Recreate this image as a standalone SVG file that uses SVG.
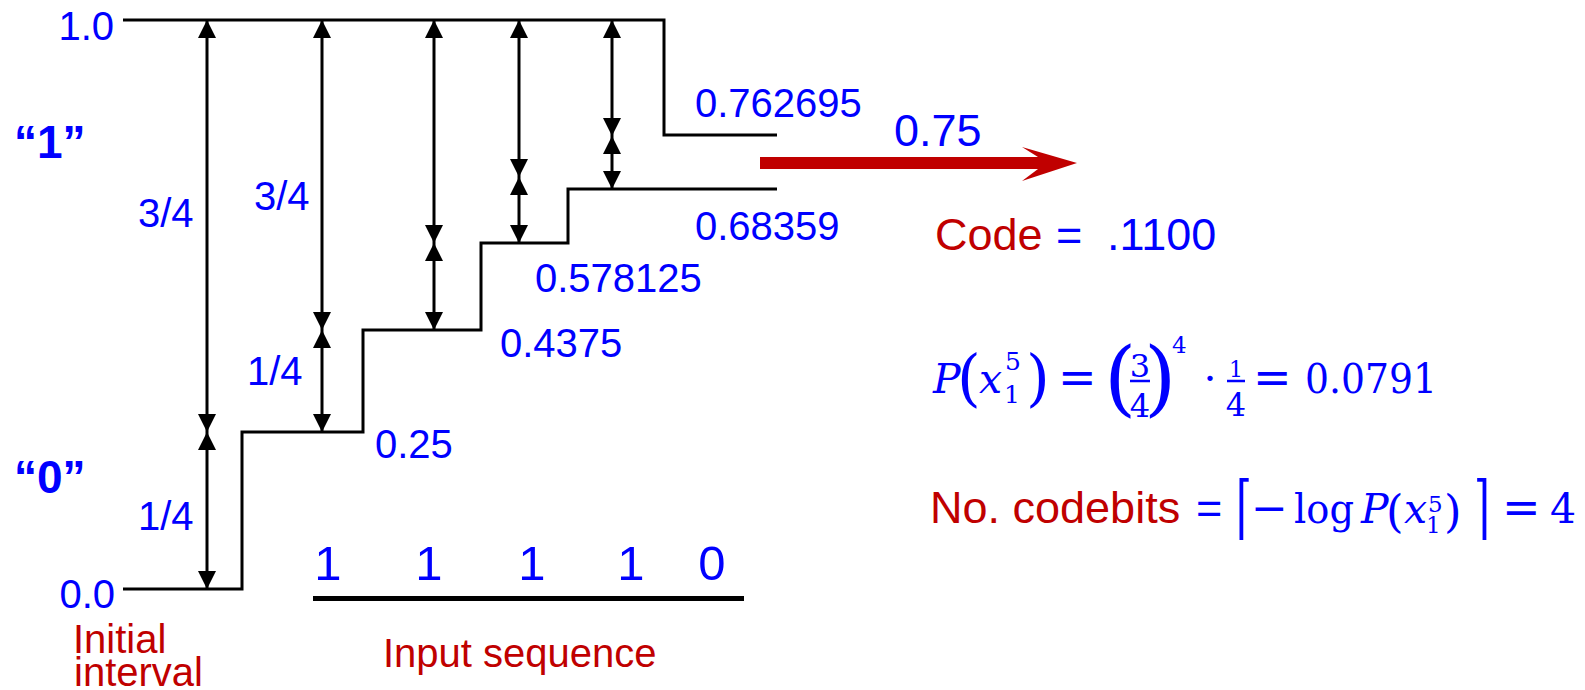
<svg xmlns="http://www.w3.org/2000/svg" width="1585" height="690" viewBox="0 0 1585 690">
  <style>
    .lbl { font-family: "Liberation Sans", Arial, sans-serif; font-size: 40px; fill: #0000FF; }
    .red { fill: #C00000; }
    .sym { font-family: "Liberation Sans", Arial, sans-serif; font-weight: bold; font-size: 46px; fill: #0000FF; }
    .math { font-family: "DejaVu Serif", "Liberation Serif", serif; font-size: 41px; fill: #0000FF; }
    .it { font-style: italic; }
    .rel { font-size: 46px; }
    .step { fill: none; stroke: #000; stroke-width: 3; }
    .dim { stroke: #000; stroke-width: 3; marker-start: url(#head); marker-end: url(#head); }
    .bar { stroke: #0000FF; stroke-width: 2.5; }
  </style>
  <defs>
    <marker id="head" markerUnits="userSpaceOnUse" markerWidth="18" markerHeight="18" refX="18" refY="9" orient="auto-start-reverse">
      <path d="M0,0 L18,9 L0,18 Z" fill="#000"/>
    </marker>
  </defs>
  <rect width="1585" height="690" fill="#fff"/>

  <!-- interval boundaries and subdivision arrows -->
  <g id="connectors">
    <path class="step" d="M123,20 H664 V135 H777"/>
    <path class="step" d="M123,589 H242 V432 H363 V330 H481 V243 H568 V189 H777"/>
    <line class="dim" x1="207" y1="20" x2="207" y2="432"/>
    <line class="dim" x1="207" y1="432" x2="207" y2="589"/>
    <line class="dim" x1="322" y1="20" x2="322" y2="330"/>
    <line class="dim" x1="322" y1="330" x2="322" y2="432"/>
    <line class="dim" x1="434" y1="20" x2="434" y2="243"/>
    <line class="dim" x1="434" y1="243" x2="434" y2="330"/>
    <line class="dim" x1="519" y1="20" x2="519" y2="177"/>
    <line class="dim" x1="519" y1="177" x2="519" y2="243"/>
    <line class="dim" x1="612" y1="20" x2="612" y2="136"/>
    <line class="dim" x1="612" y1="136" x2="612" y2="189"/>
    <path id="out-arrow" d="M760,157 H1038 L1022,147 L1077,163 L1022,181 L1038,169 H760 Z" fill="#C00000"/>
    <rect x="313" y="596" width="431" height="5" fill="#000"/>
  </g>

  <!-- axis labels -->
  <g id="axis">
    <text class="lbl" x="114" y="40" text-anchor="end">1.0</text>
    <text class="lbl" x="115" y="608" text-anchor="end">0.0</text>
    <text class="sym" x="14" y="158">“1”</text>
    <text class="sym" x="14" y="493">“0”</text>
    <text class="lbl red"><tspan x="73" y="653">Initial</tspan><tspan x="74" y="686">interval</tspan></text>
  </g>

  <!-- probability labels -->
  <g id="fractions">
    <text class="lbl" x="138" y="227">3/4</text>
    <text class="lbl" x="138" y="530">1/4</text>
    <text class="lbl" x="254" y="210">3/4</text>
    <text class="lbl" x="247" y="385">1/4</text>
  </g>

  <!-- interval bounds -->
  <g id="bounds">
    <text class="lbl" x="375" y="458">0.25</text>
    <text class="lbl" x="500" y="357">0.4375</text>
    <text class="lbl" x="535" y="292">0.578125</text>
    <text class="lbl" x="695" y="240">0.68359</text>
    <text class="lbl" x="695" y="117">0.762695</text>
  </g>

  <!-- input symbols -->
  <g id="input">
    <g class="lbl" style="font-size:49px" text-anchor="middle">
      <text x="328" y="580">1</text>
      <text x="429" y="580">1</text>
      <text x="532" y="580">1</text>
      <text x="631" y="580">1</text>
      <text x="712" y="580">0</text>
    </g>
    <text class="lbl red" x="383" y="667">Input sequence</text>
  </g>

  <!-- output code -->
  <g id="code">
    <text class="lbl" style="font-size:45px" x="894" y="146">0.75</text>
    <text class="lbl" style="font-size:45px" y="250"><tspan class="red" x="935">Code</tspan><tspan x="1056">=</tspan><tspan x="1107">.1100</tspan></text>
  </g>

  <!-- probability of the sequence -->
  <g id="prob">
    <text class="math it" x="933" y="393">P</text>
    <text class="math" style="font-size:61px" x="957" y="399">(</text>
    <text class="math it" x="979" y="393">x</text>
    <text class="math" style="font-size:25px" x="1005" y="370">5</text>
    <text class="math" style="font-size:25px" x="1004" y="403">1</text>
    <text class="math" style="font-size:61px" x="1026" y="399">)</text>
    <text class="math rel" x="1058" y="393">=</text>
    <text class="math" style="font-size:83px" x="1104" y="406">(</text>
    <text class="math" style="font-size:32px" x="1140" y="377" text-anchor="middle">3</text>
    <line class="bar" x1="1130" y1="381" x2="1150" y2="381"/>
    <text class="math" style="font-size:32px" x="1140" y="417" text-anchor="middle">4</text>
    <text class="math" style="font-size:83px" x="1144" y="406">)</text>
    <text class="math" style="font-size:23px" x="1172" y="353">4</text>
    <text class="math" x="1210" y="393" text-anchor="middle">·</text>
    <text class="math" style="font-size:22px" x="1236" y="377" text-anchor="middle">1</text>
    <line class="bar" x1="1227" y1="381" x2="1245" y2="381"/>
    <text class="math" style="font-size:32px" x="1236" y="416" text-anchor="middle">4</text>
    <text class="math rel" x="1253" y="393">=</text>
    <text class="math" x="1305" y="393" textLength="132" lengthAdjust="spacingAndGlyphs">0.0791</text>
  </g>

  <!-- code length -->
  <g id="bits">
    <text class="lbl" style="font-size:45px" y="523"><tspan class="red" x="930">No. codebits</tspan><tspan x="1196">=</tspan></text>
    <text class="math" style="font-size:58px" transform="translate(1236,531) scale(0.7,1.2)">⌈</text>
    <text class="math" style="font-size:44px" x="1251" y="523">−</text>
    <text class="math" x="1294" y="523" textLength="60" lengthAdjust="spacingAndGlyphs">log</text>
    <text class="math it" x="1361" y="523">P</text>
    <text class="math" style="font-size:45px" x="1386" y="527">(</text>
    <text class="math it" x="1404" y="523">x</text>
    <text class="math" style="font-size:23px" x="1428" y="512">5</text>
    <text class="math" style="font-size:23px" x="1426" y="533">1</text>
    <text class="math" style="font-size:45px" x="1444" y="527">)</text>
    <text class="math" style="font-size:58px" transform="translate(1474,531) scale(0.7,1.2)">⌉</text>
    <text class="math rel" x="1502" y="523">=</text>
    <text class="math" x="1550" y="523">4</text>
  </g>
</svg>
